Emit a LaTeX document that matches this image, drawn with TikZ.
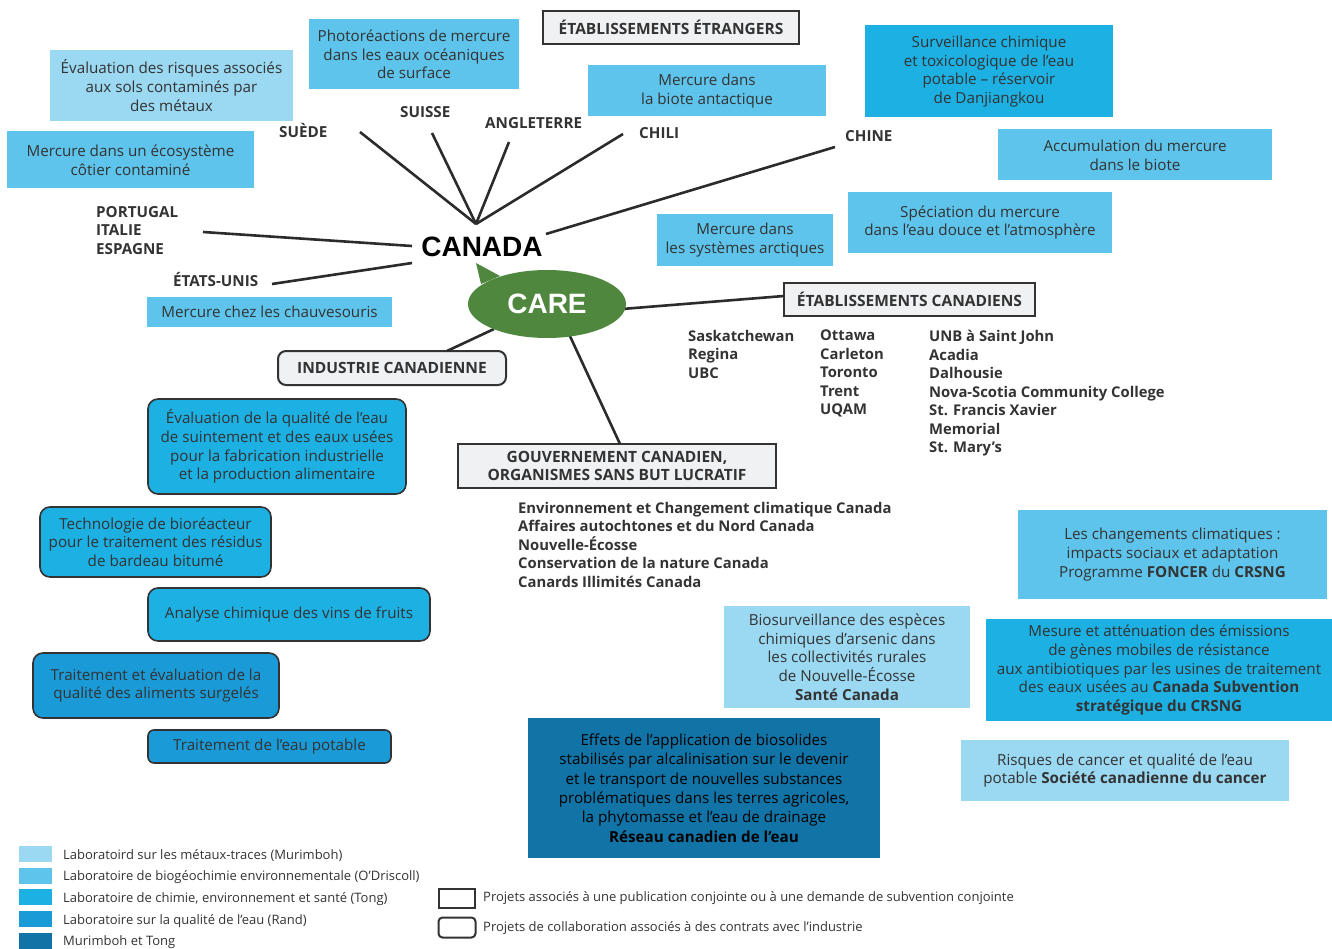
\documentclass[tikz,border=0pt]{standalone}
\usepackage{fontspec}
\setmainfont{Open Sans}
\newfontfamily\bigfont{Liberation Sans}
\usetikzlibrary{shapes.geometric}
\definecolor{tc}{HTML}{333333}
\definecolor{ln}{HTML}{2B2B2B}
\definecolor{bd}{HTML}{333333}
\definecolor{lg}{HTML}{F0F1F3}
\definecolor{cA}{HTML}{9BD8F2}
\definecolor{cB}{HTML}{5EC4EB}
\definecolor{cC}{HTML}{1CB0E3}
\definecolor{cD}{HTML}{1A9AD6}
\definecolor{cE}{HTML}{1274A6}
\definecolor{grn}{HTML}{4F873E}
\tikzset{
  txt/.style={text=tc, font=\fontsize{15.2}{18.7}\selectfont, align=center},
  proj/.style={txt, rectangle, inner sep=0pt},
  pA/.style={proj, fill=cA},
  pB/.style={proj, fill=cB},
  pC/.style={proj, fill=cC},
  pD/.style={proj, fill=cD},
  pE/.style={proj, fill=cE, text=black},
  rbox/.style={rounded corners=10pt, draw=bd, line width=1.6pt},
  lab/.style={draw=bd, line width=2pt, fill=lg, text=tc, align=center, inner sep=0pt,
    font=\bfseries\fontsize{15.5}{18}\selectfont},
  cty/.style={text=tc, align=left, inner sep=0pt, anchor=west,
    font=\bfseries\fontsize{15.2}{18.5}\selectfont},
  lst/.style={text=tc, align=left, inner sep=0pt, anchor=north west,
    font=\bfseries\fontsize{14.8}{18.5}\selectfont},
  link/.style={draw=ln, line width=2.6pt},
  leg/.style={text=tc, anchor=west, inner sep=0pt, font=\fontsize{13}{15}\selectfont},
  sw/.style={minimum width=33pt, minimum height=16pt, inner sep=0pt}
}
\begin{document}
\begin{tikzpicture}[x=1pt,y=-1pt]
\useasboundingbox (0,0) rectangle (1332,949);

% ---- project boxes (top) ----
\node[pA, minimum width=243pt, minimum height=71pt] (risq) at (171.5,85.5)
  {Évaluation des risques associés\\aux sols contaminés par\\des métaux};
\node[pB, minimum width=210pt, minimum height=70pt] (photo) at (414,54.5)
  {Photoréactions de mercure\\dans les eaux océaniques\\de surface};
\node[pB, minimum width=247pt, minimum height=57pt] (cotier) at (130.5,160)
  {Mercure dans un écosystème\\côtier contaminé};
\node[lab, minimum width=256pt, minimum height=33pt] (etr) at (671,27.5)
  {ÉTABLISSEMENTS ÉTRANGERS};
\node[pB, minimum width=238pt, minimum height=51pt] (antar) at (707,91)
  {Mercure dans\\la biote antactique};
\node[pC, minimum width=248pt, minimum height=92pt] (danj) at (989,71.5)
  {Surveillance chimique\\et toxicologique de l’eau\\potable – réservoir\\de Danjiangkou};
\node[pB, minimum width=274pt, minimum height=51pt] (accum) at (1135,155)
  {Accumulation du mercure\\dans le biote};
\node[pB, minimum width=264pt, minimum height=61pt] (spec) at (980,222.5)
  {Spéciation du mercure\\dans l’eau douce et l’atmosphère};
\node[pB, minimum width=176pt, minimum height=52pt] (arct) at (745,240)
  {Mercure dans\\les systèmes arctiques};
\node[pB, minimum width=245pt, minimum height=30pt] (chauv) at (269.5,312)
  {Mercure chez les chauvesouris};

% ---- countries ----
\node[cty] (suede) at (279,131) {SUÈDE};
\node[cty] (suisse) at (400,112) {SUISSE};
\node[cty] (angl) at (485,123) {ANGLETERRE};
\node[cty] (chili) at (639,133) {CHILI};
\node[cty] (chine) at (845,136) {CHINE};
\node[cty] (port) at (96,230.5) {PORTUGAL\\ITALIE\\ESPAGNE};
\node[cty] (eu) at (173,279) {ÉTATS-UNIS};

\node[text=black, inner sep=0pt, font=\bigfont\bfseries\fontsize{28}{30}\selectfont] (canada) at (482,247) {CANADA};

\coordinate (hub) at (476,224);
\coordinate (hubR) at (546,234);
\coordinate (hubL1) at (412,246);
\coordinate (hubL2) at (412,263);
\coordinate (eSuede) at (360,132);
\coordinate (eSuisse) at (432,133);
\coordinate (eAngl) at (509,142);
\coordinate (eChili) at (623,134);
\coordinate (eChine) at (835,147);
\coordinate (ePort) at (203,232);
\coordinate (eEu) at (272,284);
\draw[link] (eSuede) -- (hub);
\draw[link] (eSuisse) -- (hub);
\draw[link] (eAngl) -- (hub);
\draw[link] (eChili) -- (hub);
\draw[link] (eChine) -- (hubR);
\draw[link] (ePort) -- (hubL1);
\draw[link] (eEu) -- (hubL2);

% ---- labels ----
\node[lab, rounded corners=8pt, minimum width=228pt, minimum height=34pt] (indus) at (392,368)
  {INDUSTRIE CANADIENNE};
\node[lab, minimum width=251pt, minimum height=33pt] (etabc) at (909.5,299.5)
  {ÉTABLISSEMENTS CANADIENS};
\node[lab, minimum width=318pt, minimum height=44pt] (gouv) at (617,466)
  {GOUVERNEMENT CANADIEN,\\ORGANISMES SANS BUT LUCRATIF};

% ---- CARE ----
\coordinate (cI1) at (494,329);
\coordinate (cI2) at (447,351);
\coordinate (cE1) at (622,309);
\coordinate (cE2) at (784,296);
\coordinate (cG1) at (569,334);
\coordinate (cG2) at (620,444);
\draw[link] (cI1) -- (cI2);
\draw[link] (cE1) -- (cE2);
\draw[link] (cG1) -- (cG2);
\fill[grn] (476,263) -- (481,284) -- (500,276) -- cycle;
\node[ellipse, fill=grn, minimum width=158pt, minimum height=68pt, inner sep=0pt,
  text=white, font=\bigfont\bfseries\fontsize{28}{30}\selectfont] (care) at (547,304) {CARE};

% ---- lists ----
\node[lst] (col1) at (688,330) {Saskatchewan\\Regina\\UBC};
\node[lst] (col2) at (820,330) {Ottawa\\Carleton\\Toronto\\Trent\\UQAM};
\node[lst] (col3) at (929,330) {UNB à Saint John\\Acadia\\Dalhousie\\Nova-Scotia Community College\\St. Francis Xavier\\Memorial\\St. Mary's};
\node[lst] (govl) at (518,502) {Environnement et Changement climatique Canada\\Affaires autochtones et du Nord Canada\\Nouvelle-Écosse\\Conservation de la nature Canada\\Canards Illimités Canada};

% ---- industry boxes ----
\node[pC, rbox, minimum width=258pt, minimum height=95pt] (qual) at (277,446.5)
  {Évaluation de la qualité de l'eau\\de suintement et des eaux usées\\pour la fabrication industrielle\\et la production alimentaire};
\node[pC, rbox, minimum width=231pt, minimum height=70pt] (bior) at (155.5,542)
  {Technologie de bioréacteur\\pour le traitement des résidus\\de bardeau bitumé};
\node[pC, rbox, minimum width=282pt, minimum height=53pt] (vins) at (289,614.5)
  {Analyse chimique des vins de fruits};
\node[pD, rbox, minimum width=246pt, minimum height=65pt] (surg) at (156,685.5)
  {Traitement et évaluation de la\\qualité des aliments surgelés};
\node[pD, rbox, rounded corners=6pt, minimum width=243pt, minimum height=33pt] (potab) at (269.5,746.5)
  {Traitement de l’eau potable};

% ---- right boxes ----
\node[pB, minimum width=309pt, minimum height=89pt] (foncer) at (1172.5,554.5)
  {Les changements climatiques :\\impacts sociaux et adaptation\\Programme \textbf{FONCER} du \textbf{CRSNG}};
\node[pA, minimum width=246pt, minimum height=102pt] (biosurv) at (847,657)
  {Biosurveillance des espèces\\chimiques d’arsenic dans\\les collectivités rurales\\de Nouvelle-Écosse\\\textbf{Santé Canada}};
\node[pC, minimum width=346pt, minimum height=102pt] (mesure) at (1159,670)
  {Mesure et atténuation des émissions\\de gènes mobiles de résistance\\aux antibiotiques par les usines de traitement\\des eaux usées au \textbf{Canada Subvention}\\\textbf{stratégique du CRSNG}};
\node[pE, minimum width=352pt, minimum height=140pt, font=\fontsize{15.2}{19.4}\selectfont] (effets) at (704,788)
  {Effets de l’application de biosolides\\stabilisés par alcalinisation sur le devenir\\et le transport de nouvelles substances\\problématiques dans les terres agricoles,\\la phytomasse et l’eau de drainage\\\textbf{Réseau canadien de l’eau}};
\node[pA, minimum width=328pt, minimum height=61pt] (cancer) at (1125,770.5)
  {Risques de cancer et qualité de l’eau\\potable \textbf{Société canadienne du cancer}};

% ---- legend ----
\node[sw, fill=cA] (s1) at (35.5,854) {};
\node[sw, fill=cB] (s2) at (35.5,876) {};
\node[sw, fill=cC] (s3) at (35.5,897) {};
\node[sw, fill=cD] (s4) at (35.5,918.5) {};
\node[sw, fill=cE] (s5) at (35.5,941) {};
\node[leg] (l1) at (63,856) {Laboratoird sur les métaux-traces (Murimboh)};
\node[leg] (l2) at (63,877) {Laboratoire de biogéochimie environnementale (O’Driscoll)};
\node[leg] (l3) at (63,899) {Laboratoire de chimie, environnement et santé (Tong)};
\node[leg] (l4) at (63,921) {Laboratoire sur la qualité de l’eau (Rand)};
\node[leg] (l5) at (63,942) {Murimboh et Tong};
\node[draw=bd, line width=2pt, minimum width=36pt, minimum height=19pt, inner sep=0pt] (b1) at (456.5,898) {};
\node[draw=bd, line width=2pt, rounded corners=4pt, minimum width=37pt, minimum height=20pt, inner sep=0pt] (b2) at (457,927.5) {};
\node[leg] (l6) at (483,898) {Projets associés à une publication conjointe ou à une demande de subvention conjointe};
\node[leg] (l7) at (483,928) {Projets de collaboration associés à des contrats avec l’industrie};
\end{tikzpicture}
\end{document}
